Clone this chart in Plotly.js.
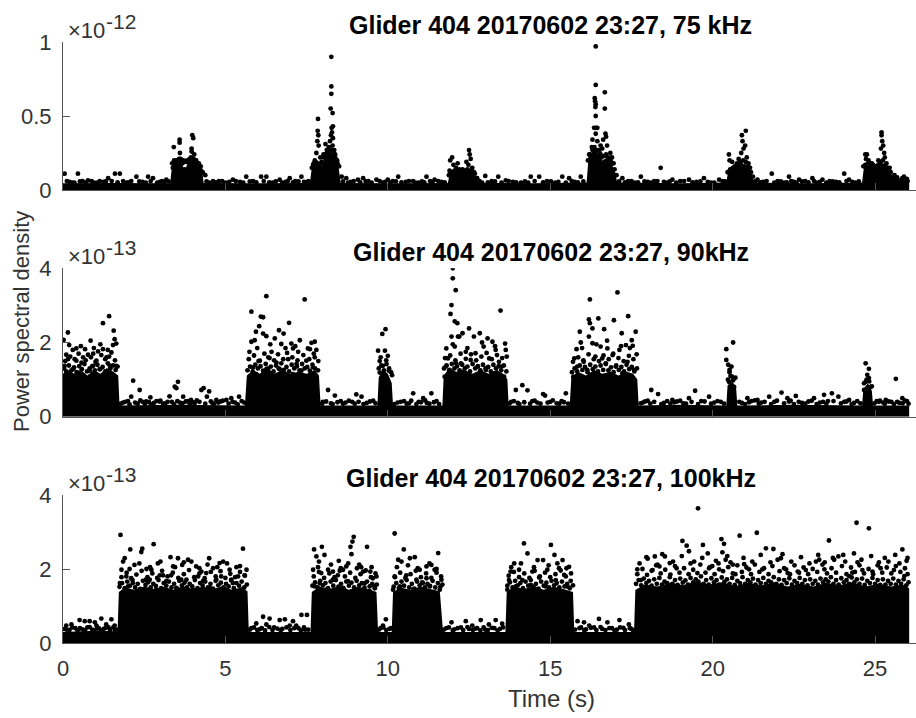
<!DOCTYPE html>
<html>
<head>
<meta charset="utf-8">
<script src="https://cdn.plot.ly/plotly-3.0.1.min.js"></script>
<style>html,body{margin:0;padding:0;background:#fff;overflow:hidden}</style>
</head>
<body>
<div id="chart"></div>
<script>
// ---------------- data ----------------
const panelTitles = ['Glider 404 20170602 23:27, 75 kHz', 'Glider 404 20170602 23:27, 90kHz', 'Glider 404 20170602 23:27, 100kHz'];
const xTicks = [0, 5, 10, 15, 20, 25];
const xTickText = ['0', '5', '10', '15', '20', '25'];
const yTicks75 = [0, 0.5, 1];
const yTickText75 = ['0', '0.5', '1'];
const yTicksHi = [0, 2, 4];
const yTickTextHi = ['0', '2', '4'];
const expBase = '×10';
const exponents = ['-12', '-13', '-13'];
const xLabel = 'Time (s)';
const yLabel = 'Power spectral density';

// ===== 75 kHz (PSD in units of 1e-12) =====
// core75: upper edge of the solid, completely over-plotted part of the point cloud [time s, psd]
const core75 = [[0,0.045],[1.5,0.048],[3.3,0.045],[3.36,0.17],[3.5,0.19],[3.65,0.18],[3.75,0.13],[3.85,0.19],[4.0,0.21],[4.15,0.18],[4.28,0.14],[4.33,0.048],[6.0,0.046],[7.6,0.048],[7.66,0.15],[7.8,0.18],[7.95,0.16],[8.05,0.22],[8.2,0.26],[8.35,0.24],[8.48,0.16],[8.55,0.048],[10.2,0.045],[11.85,0.048],[11.9,0.11],[12.1,0.13],[12.35,0.12],[12.55,0.14],[12.7,0.1],[12.78,0.048],[14.5,0.046],[16.12,0.05],[16.18,0.22],[16.35,0.28],[16.5,0.24],[16.6,0.2],[16.75,0.22],[16.9,0.17],[17.0,0.12],[17.06,0.05],[19.0,0.046],[20.42,0.05],[20.48,0.13],[20.7,0.15],[20.9,0.18],[21.05,0.17],[21.2,0.11],[21.26,0.05],[23.0,0.046],[24.6,0.05],[24.66,0.16],[24.85,0.17],[25.05,0.15],[25.2,0.19],[25.4,0.14],[25.52,0.1],[25.8,0.075],[26.05,0.07]];
// individually visible points [time s, psd]
const dots75 = [[0.05,0.11],[0.2,0.055],[0.35,0.05],[0.46,0.11],[0.6,0.06],[0.77,0.065],[0.95,0.05],[1.13,0.06],[1.25,0.055],[1.39,0.08],[1.5,0.06],[1.6,0.11],[1.75,0.11],[1.95,0.05],[2.1,0.06],[2.26,0.09],[2.45,0.055],[2.62,0.09],[2.77,0.08],[2.9,0.05],[3.05,0.06],[3.18,0.07],
[4.38,0.1],[4.5,0.05],[4.62,0.06],[4.8,0.06],[5.0,0.05],[5.23,0.07],[5.45,0.055],[5.64,0.09],[5.85,0.06],[6.1,0.09],[6.26,0.09],[6.45,0.05],[6.67,0.07],[6.85,0.055],[6.98,0.08],[7.15,0.06],[7.34,0.09],[7.5,0.05],
[8.72,0.08],[8.85,0.055],[9.08,0.07],[9.24,0.08],[9.4,0.06],[9.65,0.07],[9.85,0.05],[10.0,0.07],[10.15,0.06],[10.32,0.09],[10.55,0.055],[10.78,0.06],[10.95,0.05],[11.19,0.09],[11.3,0.06],[11.44,0.07],[11.65,0.055],
[12.9,0.05],[13.0,0.095],[13.2,0.06],[13.4,0.09],[13.63,0.065],[13.85,0.055],[14.1,0.05],[14.4,0.09],[14.66,0.09],[14.9,0.06],[15.15,0.05],[15.37,0.09],[15.58,0.08],[15.75,0.055],[15.94,0.09],
[17.22,0.08],[17.4,0.06],[17.6,0.05],[17.79,0.09],[18.0,0.055],[18.2,0.06],[18.4,0.15],[18.6,0.05],[18.76,0.07],[19.0,0.06],[19.27,0.07],[19.5,0.055],[19.73,0.08],[19.95,0.05],[20.2,0.07],[20.3,0.06],
[21.38,0.07],[21.55,0.055],[21.82,0.11],[22.0,0.06],[22.2,0.05],[22.35,0.09],[22.5,0.055],[22.66,0.07],[22.85,0.06],[23.07,0.08],[23.2,0.05],[23.38,0.07],[23.6,0.06],[23.8,0.055],[24.05,0.11],[24.2,0.07],[24.4,0.05],
[25.6,0.06],[25.75,0.055],[25.89,0.09],[26.0,0.06],
[3.41,0.29],[3.59,0.34],[3.59,0.32],[3.6,0.25],[3.57,0.21],[3.98,0.37],[4.01,0.35],[3.96,0.28],[3.96,0.26],[4.04,0.24],[3.5,0.2],[3.7,0.2],[3.45,0.18],[3.62,0.19],[3.9,0.21],[4.08,0.2],[4.15,0.18],[4.2,0.15],[3.38,0.15],[3.8,0.19],[4.25,0.13],
[7.85,0.48],[7.84,0.4],[7.86,0.37],[7.83,0.33],[7.87,0.3],[7.8,0.25],[7.75,0.2],[7.92,0.22],[8.26,0.9],[8.26,0.7],[8.26,0.65],[8.24,0.55],[8.3,0.52],[8.27,0.42],[8.31,0.43],[8.28,0.39],[8.25,0.37],[8.31,0.35],[8.22,0.33],[8.3,0.3],[8.18,0.29],[8.08,0.31],[8.12,0.27],[8.02,0.24],[8.35,0.27],[8.38,0.24],[8.42,0.2],[8.45,0.18],[8.2,0.26],[7.7,0.17],[8.58,0.09],
[11.92,0.2],[11.98,0.22],[12.02,0.17],[12.1,0.15],[12.15,0.18],[12.3,0.14],[12.42,0.19],[12.5,0.27],[12.52,0.24],[12.55,0.21],[12.48,0.17],[12.6,0.15],[12.65,0.12],[12.2,0.12],[11.9,0.13],
[16.4,0.97],[16.4,0.71],[16.68,0.66],[16.37,0.62],[16.38,0.6],[16.4,0.58],[16.39,0.56],[16.68,0.55],[16.4,0.5],[16.35,0.42],[16.4,0.42],[16.45,0.42],[16.4,0.38],[16.7,0.38],[16.72,0.36],[16.63,0.34],[16.3,0.34],[16.45,0.33],[16.55,0.3],[16.75,0.3],[16.6,0.28],[16.28,0.29],[16.5,0.27],[16.85,0.25],[16.2,0.24],[16.9,0.22],[16.95,0.18],[16.25,0.22],[16.8,0.2],[16.55,0.24],
[21.02,0.4],[20.9,0.37],[20.92,0.33],[21.0,0.3],[20.95,0.28],[20.5,0.24],[20.52,0.2],[20.6,0.19],[20.88,0.25],[21.05,0.22],[21.1,0.18],[20.75,0.18],[20.8,0.21],[21.15,0.15],[20.68,0.16],
[25.2,0.39],[25.2,0.37],[25.22,0.33],[25.25,0.3],[25.18,0.28],[24.7,0.24],[24.75,0.24],[24.72,0.21],[24.8,0.2],[25.28,0.25],[25.3,0.22],[25.1,0.2],[24.9,0.18],[25.35,0.18],[25.45,0.15],[25.6,0.1],[25.0,0.16]];
// points along the ragged top of the dense cloud [time s, psd]
const fringe75 = [[3.36,0.18],[3.42,0.2],[3.48,0.19],[3.54,0.2],[3.62,0.21],[3.68,0.18],[3.74,0.14],[3.82,0.2],[3.88,0.19],[3.94,0.22],[4.02,0.21],[4.1,0.2],[4.18,0.18],[4.24,0.16],[4.3,0.12],
[7.66,0.15],[7.72,0.18],[7.78,0.19],[7.84,0.18],[7.9,0.17],[7.96,0.19],[8.02,0.22],[8.08,0.24],[8.14,0.26],[8.2,0.28],[8.26,0.27],[8.32,0.26],[8.38,0.22],[8.44,0.2],[8.5,0.16],
[11.88,0.1],[11.95,0.12],[12.05,0.13],[12.12,0.12],[12.2,0.14],[12.28,0.12],[12.36,0.13],[12.45,0.14],[12.58,0.14],[12.68,0.11],[12.75,0.08],
[16.16,0.2],[16.22,0.24],[16.3,0.27],[16.36,0.29],[16.44,0.27],[16.52,0.25],[16.58,0.22],[16.66,0.23],[16.72,0.24],[16.78,0.22],[16.86,0.2],[16.92,0.18],[16.98,0.14],[17.04,0.1],
[20.46,0.12],[20.54,0.14],[20.62,0.15],[20.7,0.16],[20.78,0.17],[20.86,0.19],[20.94,0.2],[21.02,0.19],[21.1,0.16],[21.18,0.12],[21.24,0.09],
[24.64,0.16],[24.7,0.17],[24.78,0.18],[24.86,0.18],[24.94,0.17],[25.02,0.16],[25.1,0.17],[25.16,0.19],[25.24,0.2],[25.32,0.17],[25.4,0.15],[25.48,0.12],[25.56,0.09],[25.68,0.085],[25.84,0.08],[25.98,0.075],
[0.12,0.06],[0.28,0.05],[0.52,0.058],[0.7,0.052],[0.88,0.06],[1.05,0.05],[1.32,0.058],[1.68,0.052],[1.85,0.06],[2.02,0.052],[2.35,0.058],[2.55,0.05],[2.7,0.06],[2.98,0.055],[3.12,0.05],[3.25,0.058],
[4.42,0.058],[4.7,0.052],[4.9,0.06],[5.12,0.055],[5.32,0.06],[5.55,0.05],[5.75,0.058],[5.95,0.052],[6.18,0.06],[6.35,0.052],[6.55,0.058],[6.75,0.05],[6.92,0.06],[7.08,0.052],[7.25,0.058],[7.42,0.055],[7.55,0.06],
[8.62,0.058],[8.78,0.05],[8.95,0.06],[9.15,0.052],[9.32,0.058],[9.5,0.05],[9.75,0.06],[9.92,0.055],[10.08,0.05],[10.25,0.058],[10.42,0.052],[10.65,0.06],[10.85,0.05],[11.05,0.058],[11.12,0.052],[11.38,0.055],[11.55,0.06],[11.75,0.052],
[12.82,0.06],[13.08,0.052],[13.3,0.058],[13.5,0.05],[13.72,0.06],[13.95,0.052],[14.22,0.058],[14.32,0.05],[14.52,0.06],[14.78,0.052],[15.02,0.058],[15.25,0.055],[15.48,0.05],[15.66,0.06],[15.85,0.052],[16.02,0.058],
[17.12,0.058],[17.3,0.052],[17.5,0.06],[17.7,0.052],[17.9,0.058],[18.1,0.05],[18.3,0.06],[18.5,0.055],[18.68,0.058],[18.88,0.05],[19.12,0.06],[19.38,0.052],[19.62,0.058],[19.85,0.055],[20.05,0.05],[20.38,0.058],
[21.3,0.058],[21.46,0.052],[21.66,0.06],[21.9,0.05],[22.1,0.058],[22.28,0.052],[22.42,0.06],[22.58,0.05],[22.75,0.058],[22.95,0.052],[23.12,0.06],[23.3,0.055],[23.5,0.05],[23.7,0.058],[23.9,0.052],[24.12,0.06],[24.3,0.055],[24.5,0.058]];

// ===== 90 kHz (PSD in units of 1e-13) =====
const core90 = [[0,1.16],[0.15,1.26],[0.35,1.16],[0.55,1.26],[0.75,1.11],[0.95,1.26],[1.15,1.16],[1.35,1.31],[1.55,1.21],[1.7,1.11],[1.74,0.3],[3.5,0.32],[5.6,0.3],[5.66,1.11],[5.85,1.26],[6.05,1.16],[6.3,1.31],[6.5,1.16],[6.75,1.26],[7.0,1.16],[7.25,1.21],[7.5,1.16],[7.75,1.26],[7.88,1.11],[7.93,0.3],[9.68,0.3],[9.72,1.06],[9.85,1.26],[10.0,1.16],[10.12,0.91],[10.16,0.3],[11.68,0.3],[11.72,1.11],[11.9,1.31],[12.1,1.21],[12.35,1.26],[12.6,1.16],[12.85,1.26],[13.1,1.16],[13.35,1.26],[13.55,1.16],[13.68,1.01],[13.72,0.3],[15.6,0.3],[15.65,1.06],[15.85,1.21],[16.1,1.11],[16.35,1.26],[16.6,1.16],[16.85,1.21],[17.1,1.11],[17.35,1.21],[17.55,1.16],[17.68,1.01],[17.72,0.3],[19.0,0.32],[20.42,0.3],[20.46,0.85],[20.6,0.95],[20.72,0.8],[20.76,0.3],[22.5,0.32],[24.6,0.3],[24.64,0.75],[24.78,0.9],[24.9,0.7],[24.94,0.3],[26.05,0.3]];
const dots90 = [[0.02,2.07],[0.15,2.27],[0.19,1.93],[0.41,1.84],[0.68,1.82],[0.85,2.05],[1.23,2.52],[1.42,2.71],[1.56,2.32],[1.59,2.09],[1.64,1.97],[1.54,1.93],[1.23,1.82],[1.08,1.76],[0.93,1.7],[0.77,1.67],[0.62,1.6],[0.41,1.51],[0.15,1.55],[0.05,1.37],[0.31,1.28],[0.57,1.46],[1.03,1.51],[1.34,1.6],[1.49,1.73],[1.13,1.28],[0.82,1.24],[0.51,1.19],[0.21,1.1],[1.44,1.37],[1.64,1.37],[0.93,1.37],[1.28,1.15],[0.1,1.67],
[2.16,0.97],[2.36,0.72],[2.69,0.52],[3.28,0.55],[3.44,0.81],[3.54,0.94],[3.49,0.77],[3.7,0.54],[4.26,0.72],[4.33,0.77],[4.5,0.68],[4.43,0.54],[4.72,0.45],[5.03,0.45],[5.18,0.5],[5.42,0.54],[2.1,0.54],[2.56,0.41],[2.97,0.41],[3.94,0.45],
[1.85,0.38],[2.0,0.42],[2.3,0.35],[2.45,0.4],[2.8,0.37],[3.0,0.43],[3.15,0.36],[3.35,0.4],[3.6,0.38],[3.85,0.42],[4.05,0.36],[4.2,0.4],[4.6,0.37],[4.85,0.41],[5.3,0.38],[5.5,0.42],
[5.8,2.83],[6.09,2.7],[6.26,3.25],[6.16,2.68],[6.04,2.44],[5.94,2.29],[5.9,2.06],[6.16,2.24],[6.26,2.17],[5.8,2.02],[5.74,1.75],[6.52,2.11],[6.65,2.33],[6.79,2.24],[6.96,2.53],[6.72,1.96],[7.03,1.97],[7.29,2.06],[7.44,3.16],[7.65,1.99],[7.75,2.02],[7.8,1.8],[7.54,1.84],[7.24,1.75],[7.08,1.84],[6.42,1.75],[6.32,1.6],[6.06,1.51],[5.85,1.33],[6.57,1.46],[6.93,1.55],[7.19,1.42],[7.49,1.51],[7.75,1.6],[6.67,1.28],[6.26,1.28],[7.34,1.24],[7.7,1.33],[5.95,1.15],[7.08,1.15],[6.47,1.1],
[8.16,0.72],[8.37,0.57],[9.03,0.6],[9.19,0.54],[8.0,0.4],[8.25,0.36],[8.55,0.42],[8.7,0.38],[8.9,0.4],[9.35,0.37],[9.55,0.43],
[9.83,2.23],[9.93,2.36],[9.7,1.78],[9.91,1.78],[10.0,1.64],[9.75,1.5],[9.85,1.37],[10.03,1.24],[9.75,1.19],[10.13,1.12],[9.91,1.12],
[10.78,0.63],[11.34,0.63],[11.09,0.5],[10.3,0.38],[10.5,0.42],[10.65,0.36],[10.95,0.4],[11.2,0.37],[11.5,0.42],
[12.0,4.0],[12.0,3.73],[12.09,3.41],[11.96,3.01],[11.93,2.77],[12.06,2.57],[11.96,2.16],[11.8,1.84],[12.06,1.89],[12.16,2.16],[11.85,1.57],[11.78,1.35],[12.14,2.52],[12.3,2.25],[12.5,2.38],[12.2,2.16],[12.65,2.16],[12.83,2.25],[13.07,2.11],[13.22,2.02],[13.47,2.86],[13.61,1.97],[13.63,1.8],[13.32,1.8],[12.95,1.89],[12.7,1.71],[12.4,1.75],[12.55,1.53],[13.12,1.57],[13.42,1.48],[12.25,1.44],[12.77,1.35],[13.5,1.35],[13.02,1.26],[12.35,1.22],[13.27,1.17],[12.65,1.08],[13.58,1.08],[11.75,1.08],[11.9,1.26],[12.1,1.44],
[13.94,0.72],[14.14,0.85],[14.3,0.71],[14.78,0.61],[14.84,0.57],[15.48,0.63],[13.8,0.4],[14.0,0.37],[14.45,0.42],[14.6,0.38],[15.0,0.4],[15.2,0.36],[15.35,0.42],
[15.81,1.82],[15.74,1.57],[15.94,2.0],[15.91,2.29],[16.19,2.62],[16.22,2.52],[16.22,3.16],[16.19,2.16],[16.3,2.38],[16.48,2.65],[16.66,2.36],[16.76,1.84],[16.96,2.6],[17.07,3.35],[17.2,2.25],[17.4,2.71],[17.51,2.06],[17.63,2.29],[17.54,1.91],[17.33,1.93],[17.13,1.8],[16.92,1.66],[16.55,1.89],[16.39,1.62],[16.03,1.48],[15.83,1.35],[16.14,1.26],[16.71,1.44],[17.02,1.35],[17.38,1.48],[17.58,1.26],[16.45,1.17],[16.86,1.08],[17.22,1.17],[15.71,1.08],[16.6,1.57],[16.3,1.98],
[18.11,0.72],[18.32,0.61],[19.46,0.7],[18.76,0.45],[19.27,0.5],[19.89,0.54],[17.85,0.38],[18.0,0.43],[18.5,0.37],[18.9,0.41],[19.1,0.36],[19.65,0.42],[20.05,0.38],[20.25,0.4],
[20.42,1.82],[20.63,2.0],[20.42,1.53],[20.48,1.4],[20.58,1.35],[20.52,1.26],[20.6,1.08],[20.5,0.94],[20.66,0.8],[20.56,0.72],
[21.07,0.5],[21.38,0.45],[21.74,0.54],[22.12,0.65],[22.3,0.5],[22.56,0.56],[23.12,0.5],[23.43,0.59],[23.67,0.63],[23.87,0.54],[24.2,0.45],[20.9,0.37],[21.2,0.42],[21.5,0.38],[21.9,0.4],[22.4,0.43],[22.75,0.37],[22.95,0.41],[23.3,0.38],[23.55,0.42],[24.05,0.4],[24.35,0.37],
[24.71,1.44],[24.81,1.29],[24.76,1.13],[24.81,1.04],[24.71,0.94],[24.86,0.8],[24.66,0.72],[24.79,0.63],
[25.64,1.02],[25.84,0.5],[25.33,0.45],[25.12,0.4],[25.05,0.42],[25.25,0.38],[25.5,0.4],[25.75,0.37],[25.98,0.42]];
const fringe90 = [[0.03,1.3],[0.1,1.22],[0.18,1.38],[0.26,1.25],[0.34,1.33],[0.42,1.2],[0.5,1.36],[0.58,1.28],[0.66,1.42],[0.74,1.22],[0.82,1.3],[0.9,1.36],[0.98,1.25],[1.06,1.4],[1.14,1.28],[1.22,1.34],[1.3,1.22],[1.38,1.44],[1.46,1.3],[1.54,1.38],[1.62,1.26],[1.68,1.35],
[0.07,1.5],[0.22,1.62],[0.36,1.55],[0.48,1.7],[0.7,1.52],[0.86,1.6],[1.0,1.48],[1.18,1.66],[1.3,1.55],[1.42,1.62],[1.6,1.52],
[0.3,1.8],[0.55,1.9],[0.95,1.85],[1.15,1.95],[1.38,1.8],
[5.68,1.25],[5.76,1.35],[5.84,1.22],[5.92,1.4],[6.0,1.3],[6.08,1.36],[6.16,1.24],[6.24,1.42],[6.32,1.3],[6.4,1.35],[6.48,1.22],[6.56,1.38],[6.64,1.3],[6.72,1.44],[6.8,1.26],[6.88,1.34],[6.96,1.22],[7.04,1.4],[7.12,1.3],[7.2,1.36],[7.28,1.25],[7.36,1.42],[7.44,1.3],[7.52,1.34],[7.6,1.24],[7.68,1.4],[7.76,1.3],[7.85,1.25],
[5.72,1.55],[5.88,1.65],[6.02,1.5],[6.2,1.7],[6.36,1.58],[6.5,1.52],[6.62,1.68],[6.78,1.55],[6.9,1.72],[7.06,1.6],[7.22,1.52],[7.4,1.66],[7.58,1.55],[7.72,1.7],[7.86,1.5],
[5.98,1.85],[6.38,1.95],[6.85,1.85],[7.15,1.9],[7.6,1.82],
[9.72,1.3],[9.8,1.38],[9.88,1.25],[9.96,1.42],[10.04,1.3],[10.1,1.2],[9.78,1.6],[9.95,1.52],
[11.73,1.3],[11.81,1.38],[11.89,1.25],[11.97,1.42],[12.05,1.3],[12.13,1.36],[12.21,1.25],[12.29,1.4],[12.37,1.3],[12.45,1.35],[12.53,1.22],[12.61,1.42],[12.69,1.3],[12.77,1.36],[12.85,1.25],[12.93,1.4],[13.01,1.3],[13.09,1.34],[13.17,1.22],[13.25,1.4],[13.33,1.3],[13.41,1.36],[13.49,1.25],[13.57,1.38],[13.65,1.22],
[11.76,1.58],[11.92,1.65],[12.08,1.52],[12.24,1.7],[12.4,1.56],[12.56,1.68],[12.72,1.52],[12.88,1.62],[13.04,1.72],[13.2,1.55],[13.36,1.66],[13.52,1.58],[13.66,1.62],
[12.0,1.95],[12.45,1.85],[12.9,2.0],[13.3,1.9],
[15.67,1.2],[15.75,1.3],[15.83,1.22],[15.91,1.38],[15.99,1.26],[16.07,1.34],[16.15,1.2],[16.23,1.4],[16.31,1.28],[16.39,1.35],[16.47,1.22],[16.55,1.38],[16.63,1.26],[16.71,1.42],[16.79,1.25],[16.87,1.33],[16.95,1.2],[17.03,1.38],[17.11,1.26],[17.19,1.34],[17.27,1.22],[17.35,1.4],[17.43,1.28],[17.51,1.34],[17.59,1.22],[17.67,1.3],
[15.7,1.48],[15.86,1.6],[16.02,1.52],[16.18,1.68],[16.34,1.55],[16.5,1.5],[16.64,1.65],[16.8,1.55],[16.94,1.7],[17.1,1.58],[17.26,1.5],[17.42,1.64],[17.56,1.55],[17.66,1.68],
[15.98,1.85],[16.42,1.95],[16.75,2.05],[17.18,1.9],[17.45,1.85],
[20.47,1.0],[20.55,1.1],[20.63,0.98],[20.7,1.05],[20.52,1.2],[24.66,0.9],[24.74,1.0],[24.82,0.95],[24.9,0.82],
[1.78,0.35],[1.92,0.4],[2.05,0.33],[2.22,0.38],[2.38,0.44],[2.52,0.34],[2.65,0.39],[2.72,0.33],[2.88,0.42],[3.08,0.35],[3.22,0.4],[3.42,0.34],[3.52,0.42],[3.68,0.36],[3.78,0.41],[3.9,0.34],[4.0,0.39],[4.12,0.44],[4.38,0.35],[4.55,0.41],[4.65,0.34],[4.78,0.38],[4.92,0.43],[5.1,0.35],[5.22,0.4],[5.38,0.33],[5.58,0.38],
[7.98,0.35],[8.1,0.41],[8.3,0.34],[8.45,0.39],[8.62,0.35],[8.8,0.43],[8.98,0.35],[9.1,0.4],[9.25,0.34],[9.45,0.41],[9.62,0.36],
[10.2,0.34],[10.4,0.4],[10.58,0.35],[10.72,0.43],[10.88,0.34],[11.02,0.39],[11.15,0.44],[11.28,0.35],[11.42,0.39],[11.58,0.34],
[13.75,0.36],[13.88,0.42],[14.05,0.34],[14.2,0.39],[14.38,0.35],[14.52,0.43],[14.7,0.35],[14.92,0.38],[15.08,0.44],[15.28,0.35],[15.42,0.39],[15.55,0.35],
[17.78,0.36],[17.92,0.41],[18.08,0.35],[18.2,0.4],[18.42,0.34],[18.6,0.42],[18.7,0.35],[18.82,0.39],[19.0,0.43],[19.18,0.35],[19.35,0.4],[19.55,0.34],[19.75,0.41],[19.95,0.35],[20.15,0.42],[20.35,0.35],
[20.82,0.4],[21.0,0.34],[21.12,0.39],[21.3,0.44],[21.42,0.35],[21.6,0.4],[21.8,0.34],[21.98,0.43],[22.2,0.36],[22.35,0.41],[22.5,0.34],[22.65,0.4],[22.85,0.35],[23.05,0.43],[23.2,0.34],[23.4,0.4],[23.5,0.35],[23.72,0.42],[23.95,0.36],[24.12,0.41],[24.28,0.34],[24.45,0.42],[24.55,0.36],
[24.98,0.36],[25.15,0.43],[25.3,0.35],[25.42,0.41],[25.58,0.34],[25.68,0.4],[25.85,0.36],[25.92,0.43],[26.03,0.35]];

// ===== 100 kHz (PSD in units of 1e-13) =====
const core100 = [[0,0.3],[1.0,0.33],[1.68,0.32],[1.72,1.38],[1.9,1.5],[2.2,1.44],[2.5,1.53],[2.8,1.46],[3.1,1.52],[3.4,1.44],[3.7,1.54],[4.0,1.45],[4.3,1.52],[4.6,1.46],[4.9,1.53],[5.2,1.44],[5.5,1.5],[5.68,1.4],[5.72,0.3],[7.62,0.3],[7.66,1.38],[7.9,1.53],[8.2,1.46],[8.5,1.54],[8.8,1.44],[9.1,1.52],[9.4,1.46],[9.65,1.38],[9.7,0.3],[10.12,0.3],[10.16,1.38],[10.4,1.5],[10.7,1.43],[11.0,1.53],[11.3,1.46],[11.6,1.4],[11.7,0.3],[13.62,0.3],[13.66,1.38],[13.9,1.53],[14.2,1.46],[14.5,1.54],[14.8,1.44],[15.1,1.52],[15.4,1.46],[15.7,1.38],[15.74,0.3],[17.58,0.3],[17.62,1.43],[17.9,1.58],[18.3,1.53],[18.7,1.63],[19.1,1.56],[19.5,1.66],[19.9,1.58],[20.3,1.64],[20.7,1.54],[21.1,1.63],[21.5,1.56],[21.9,1.64],[22.3,1.53],[22.7,1.6],[23.1,1.53],[23.5,1.63],[23.9,1.56],[24.3,1.64],[24.7,1.53],[25.1,1.6],[25.5,1.53],[25.85,1.58],[26.05,1.48]];
const dots100 = [[0.51,0.62],[0.67,0.59],[0.82,0.59],[0.98,0.56],[1.18,0.66],[1.49,0.64],[0.26,0.5],[1.33,0.5],[0.1,0.47],[1.03,0.47],[1.59,0.47],[0.05,0.38],[0.2,0.35],[0.38,0.4],[0.6,0.37],[0.75,0.42],[0.9,0.36],[1.1,0.4],[1.25,0.38],[1.4,0.42],[1.6,0.36],
[1.77,2.92],[1.9,2.29],[1.85,2.2],[1.8,1.98],[1.95,1.8],[2.07,2.53],[2.2,2.11],[2.44,2.55],[2.41,2.46],[2.57,2.0],[2.72,1.98],[2.79,2.67],[2.92,2.15],[3.08,1.83],[3.31,2.32],[3.39,2.07],[3.54,2.29],[3.67,2.11],[3.85,2.25],[3.95,2.2],[4.1,2.07],[4.26,1.93],[4.5,2.29],[4.62,2.02],[4.82,2.16],[4.93,2.2],[5.13,1.98],[5.34,2.05],[5.54,2.55],[5.65,1.98],[5.59,1.83],[5.39,1.8],[2.67,1.71],[3.18,1.67],[3.8,1.71],[4.31,1.67],[4.72,1.71],[5.23,1.62],[2.15,1.62],[2.36,1.44],[2.87,1.44],[3.49,1.49],[4.0,1.44],[4.52,1.49],[5.03,1.44],[5.49,1.44],[2.0,1.53],[3.64,1.71],[4.16,1.8],[4.87,1.8],[2.98,1.83],[1.75,1.62],[4.41,1.89],[3.33,1.83],[5.18,1.71],[2.55,1.71],
[6.16,0.71],[6.36,0.66],[6.67,0.62],[6.83,0.64],[7.08,0.59],[7.34,0.76],[7.51,0.76],[5.95,0.53],[6.26,0.5],[6.98,0.47],[7.18,0.47],[5.8,0.4],[6.05,0.37],[6.5,0.42],[6.75,0.38],[7.25,0.4],[7.45,0.36],
[7.73,2.53],[7.97,2.6],[7.8,2.34],[8.05,2.38],[7.7,1.98],[7.88,2.2],[7.95,1.89],[8.16,1.98],[8.31,1.93],[8.49,2.22],[8.62,1.98],[8.72,2.07],[8.85,2.6],[8.91,2.74],[8.95,2.87],[8.88,2.4],[9.05,2.02],[9.18,2.05],[9.24,1.93],[9.36,2.6],[9.46,1.93],[9.54,1.75],[9.65,1.8],[8.31,1.71],[7.9,1.62],[8.77,1.67],[9.29,1.62],[9.59,1.53],[8.1,1.44],[8.62,1.49],[9.03,1.44],[9.44,1.4],[8.46,1.83],[7.75,1.53],
[9.94,0.64],[9.85,0.47],[9.78,0.4],[10.05,0.38],
[10.21,2.96],[10.49,2.53],[10.32,2.25],[10.42,2.2],[10.68,2.29],[10.83,2.32],[10.98,1.98],[11.19,2.07],[11.34,2.11],[11.44,1.98],[11.5,2.0],[11.55,2.43],[11.65,1.71],[10.21,1.8],[10.57,1.83],[10.88,1.71],[11.19,1.75],[10.37,1.53],[10.78,1.44],[11.29,1.53],[11.6,1.44],[10.16,1.44],[11.08,1.62],
[11.96,0.56],[12.4,0.59],[12.86,0.62],[13.32,0.62],[13.11,0.5],[12.6,0.47],[13.52,0.52],[11.8,0.4],[12.05,0.37],[12.25,0.42],[12.5,0.38],[12.75,0.4],[13.0,0.36],[13.2,0.41],[13.45,0.38],
[14.19,2.69],[15.02,2.65],[14.3,2.42],[14.61,2.24],[14.78,2.24],[15.13,2.38],[15.38,2.24],[15.58,2.06],[15.63,1.68],[13.89,2.15],[13.78,1.93],[14.04,1.98],[14.45,1.93],[14.91,1.98],[15.27,2.02],[15.43,1.84],[13.73,1.7],[14.14,1.7],[14.66,1.77],[15.17,1.7],[13.94,1.53],[14.4,1.57],[14.86,1.53],[15.53,1.53],[13.68,1.44],[14.24,1.4],[15.07,1.4],[14.55,1.44],
[15.84,0.59],[16.04,0.56],[16.5,0.65],[16.76,0.56],[17.13,0.62],[17.42,0.5],[16.2,0.47],[15.9,0.4],[16.1,0.37],[16.35,0.42],[16.6,0.38],[16.9,0.4],[17.05,0.36],[17.25,0.41],[17.5,0.38],
[17.68,1.99],[17.96,2.32],[18.22,2.34],[18.53,2.34],[17.79,1.7],[18.15,1.97],[18.36,2.07],[18.68,2.16],[18.89,2.02],[19.07,2.76],[19.2,2.63],[19.27,2.48],[19.43,2.2],[19.55,3.64],[19.7,2.65],[19.53,1.89],[19.89,2.02],[19.99,2.08],[20.27,2.81],[20.35,2.68],[20.3,2.45],[20.4,2.25],[20.2,1.99],[20.55,2.18],[20.7,1.86],[20.83,2.9],[20.97,2.13],[21.12,1.99],[21.36,2.98],[21.53,1.99],[21.64,2.56],[21.87,2.54],[22.0,2.25],[22.1,2.29],[22.26,1.99],[22.31,1.89],[22.62,1.93],[22.87,1.97],[23.18,2.2],[23.28,2.25],[23.44,1.99],[23.58,2.77],[23.74,2.25],[23.87,2.34],[24.02,2.38],[24.2,1.81],[24.3,1.9],[24.43,3.25],[24.46,2.18],[24.61,1.97],[24.81,3.1],[24.92,1.93],[25.17,2.02],[25.41,2.2],[25.58,1.97],[25.84,2.53],[25.97,2.22],[25.9,1.81]];
const fringe100 = [[1.74,1.52],[1.82,1.62],[1.9,1.48],[1.98,1.66],[2.06,1.55],[2.14,1.7],[2.22,1.5],[2.3,1.6],[2.38,1.46],[2.46,1.68],[2.54,1.57],[2.62,1.64],[2.7,1.5],[2.78,1.6],[2.86,1.54],[2.94,1.7],[3.02,1.48],[3.1,1.62],[3.18,1.55],[3.26,1.66],[3.34,1.5],[3.42,1.6],[3.5,1.47],[3.58,1.68],[3.66,1.56],[3.74,1.63],[3.82,1.5],[3.9,1.6],[3.98,1.53],[4.06,1.7],[4.14,1.48],[4.22,1.62],[4.3,1.55],[4.38,1.66],[4.46,1.5],[4.54,1.6],[4.62,1.47],[4.7,1.68],[4.78,1.56],[4.86,1.63],[4.94,1.5],[5.02,1.6],[5.1,1.53],[5.18,1.69],[5.26,1.48],[5.34,1.62],[5.42,1.55],[5.5,1.66],[5.58,1.5],[5.66,1.58],
[1.8,1.78],[1.96,1.9],[2.1,1.75],[2.26,1.85],[2.42,1.95],[2.6,1.78],[2.75,1.88],[2.9,1.76],[3.05,1.95],[3.22,1.8],[3.38,1.9],[3.55,1.76],[3.72,1.86],[3.88,1.97],[4.04,1.78],[4.2,1.88],[4.36,1.75],[4.55,1.92],[4.7,1.8],[4.85,1.94],[5.0,1.76],[5.15,1.87],[5.3,1.78],[5.45,1.92],[5.6,1.82],
[2.05,2.0],[2.35,2.15],[2.68,2.05],[3.0,2.2],[3.45,2.05],[3.72,2.18],[4.2,2.02],[4.45,2.12],[4.75,2.05],[5.05,2.15],[5.45,2.08],
[7.68,1.55],[7.76,1.64],[7.84,1.5],[7.92,1.68],[8.0,1.56],[8.08,1.62],[8.16,1.48],[8.24,1.66],[8.32,1.55],[8.4,1.7],[8.48,1.52],[8.56,1.6],[8.64,1.47],[8.72,1.66],[8.8,1.55],[8.88,1.63],[8.96,1.5],[9.04,1.68],[9.12,1.56],[9.2,1.62],[9.28,1.5],[9.36,1.66],[9.44,1.53],[9.52,1.6],[9.6,1.48],[9.66,1.58],
[7.72,1.8],[7.88,1.92],[8.04,1.76],[8.2,1.88],[8.36,1.78],[8.52,1.95],[8.68,1.8],[8.84,1.9],[9.0,1.76],[9.16,1.86],[9.32,1.96],[9.48,1.78],[9.62,1.88],
[7.85,2.05],[8.25,2.12],[8.55,2.02],[8.78,2.15],[9.12,2.12],[9.5,2.05],
[10.18,1.52],[10.26,1.62],[10.34,1.48],[10.42,1.66],[10.5,1.55],[10.58,1.7],[10.66,1.5],[10.74,1.6],[10.82,1.47],[10.9,1.66],[10.98,1.56],[11.06,1.64],[11.14,1.5],[11.22,1.6],[11.3,1.54],[11.38,1.68],[11.46,1.5],[11.54,1.62],[11.62,1.52],[11.68,1.58],
[10.22,1.78],[10.38,1.9],[10.54,1.76],[10.7,1.86],[10.86,1.95],[11.02,1.78],[11.18,1.88],[11.34,1.76],[11.5,1.9],[11.64,1.8],
[10.28,2.05],[10.62,2.1],[10.92,2.02],[11.28,2.15],
[13.68,1.55],[13.76,1.64],[13.84,1.5],[13.92,1.68],[14.0,1.56],[14.08,1.62],[14.16,1.48],[14.24,1.66],[14.32,1.55],[14.4,1.7],[14.48,1.52],[14.56,1.6],[14.64,1.47],[14.72,1.66],[14.8,1.55],[14.88,1.63],[14.96,1.5],[15.04,1.68],[15.12,1.56],[15.2,1.62],[15.28,1.5],[15.36,1.66],[15.44,1.53],[15.52,1.6],[15.6,1.48],[15.7,1.56],
[13.72,1.82],[13.88,1.92],[14.04,1.78],[14.2,1.88],[14.36,1.76],[14.52,1.95],[14.68,1.8],[14.84,1.9],[15.0,1.78],[15.16,1.86],[15.32,1.96],[15.48,1.8],[15.64,1.88],
[13.8,2.05],[14.1,2.15],[14.5,2.05],[14.95,2.1],[15.22,2.15],[15.5,2.02],
[17.64,1.6],[17.72,1.7],[17.8,1.56],[17.88,1.74],[17.96,1.62],[18.04,1.68],[18.12,1.55],[18.2,1.72],[18.28,1.6],[18.36,1.76],[18.44,1.58],[18.52,1.66],[18.6,1.62],[18.68,1.78],[18.76,1.6],[18.84,1.7],[18.92,1.57],[19.0,1.74],[19.08,1.63],[19.16,1.69],[19.24,1.58],[19.32,1.76],[19.4,1.64],[19.48,1.72],[19.56,1.66],[19.64,1.8],[19.72,1.6],[19.8,1.7],[19.88,1.58],[19.96,1.75],[20.04,1.64],[20.12,1.7],[20.2,1.58],[20.28,1.77],[20.36,1.65],[20.44,1.72],[20.52,1.6],[20.6,1.76],[20.68,1.57],[20.76,1.68],[20.84,1.62],[20.92,1.78],[21.0,1.6],[21.08,1.7],[21.16,1.64],[21.24,1.74],[21.32,1.58],[21.4,1.7],[21.48,1.62],[21.56,1.76],[21.64,1.6],[21.72,1.68],[21.8,1.64],[21.88,1.78],[21.96,1.6],[22.04,1.72],[22.12,1.57],[22.2,1.7],[22.28,1.62],[22.36,1.75],[22.44,1.58],[22.52,1.68],[22.6,1.62],[22.68,1.76],[22.76,1.6],[22.84,1.7],[22.92,1.56],[23.0,1.72],[23.08,1.6],[23.16,1.68],[23.24,1.58],[23.32,1.74],[23.4,1.64],[23.48,1.72],[23.56,1.66],[23.64,1.78],[23.72,1.6],[23.8,1.7],[23.88,1.58],[23.96,1.75],[24.04,1.64],[24.12,1.7],[24.2,1.6],[24.28,1.77],[24.36,1.64],[24.44,1.72],[24.52,1.6],[24.6,1.74],[24.68,1.57],[24.76,1.68],[24.84,1.62],[24.92,1.76],[25.0,1.6],[25.08,1.7],[25.16,1.57],[25.24,1.72],[25.32,1.58],[25.4,1.68],[25.48,1.6],[25.56,1.74],[25.64,1.58],[25.72,1.68],[25.8,1.6],[25.88,1.72],[25.96,1.56],[26.03,1.64],
[17.68,1.86],[17.84,2.0],[17.98,1.84],[18.12,1.95],[18.26,2.1],[18.4,1.88],[18.54,1.98],[18.7,1.85],[18.84,2.08],[18.98,1.9],[19.12,2.02],[19.26,1.86],[19.4,1.98],[19.62,2.12],[19.78,1.9],[19.92,2.05],[20.06,1.86],[20.18,2.15],[20.32,1.94],[20.48,2.05],[20.62,1.88],[20.76,2.1],[20.9,1.92],[21.04,2.04],[21.18,1.86],[21.3,2.12],[21.44,1.92],[21.58,2.02],[21.72,1.86],[21.84,2.08],[22.06,1.94],[22.2,2.02],[22.38,1.86],[22.52,2.1],[22.66,1.9],[22.8,2.04],[22.94,1.86],[23.08,2.0],[23.22,1.92],[23.38,2.12],[23.52,1.88],[23.66,2.02],[23.8,1.9],[23.98,2.08],[24.12,1.86],[24.26,2.04],[24.38,1.92],[24.52,2.1],[24.66,1.88],[24.8,2.0],[24.94,1.86],[25.08,2.1],[25.22,1.9],[25.36,2.04],[25.5,1.88],[25.64,2.08],[25.78,1.92],[25.92,2.02],[26.0,1.86],
[17.75,2.15],[18.0,2.28],[18.3,2.12],[18.45,2.4],[18.78,2.2],[19.05,2.35],[19.32,2.15],[19.68,2.3],[19.85,2.42],[20.1,2.22],[20.45,2.35],[20.62,2.12],[20.95,2.3],[21.22,2.2],[21.48,2.38],[21.78,2.18],[22.15,2.4],[22.42,2.2],[22.72,2.32],[22.98,2.15],[23.25,2.38],[23.45,2.18],[23.7,2.3],[24.08,2.2],[24.35,2.42],[24.58,2.25],[24.88,2.35],[25.12,2.18],[25.3,2.3],[25.62,2.38],[25.75,2.15],[26.0,2.3],
[0.12,0.36],[0.28,0.42],[0.45,0.34],[0.52,0.4],[0.68,0.35],[0.82,0.43],[0.95,0.35],[1.05,0.39],[1.18,0.34],[1.32,0.41],[1.45,0.35],[1.55,0.42],[1.66,0.36],
[5.75,0.36],[5.88,0.42],[5.98,0.35],[6.12,0.4],[6.22,0.34],[6.35,0.43],[6.45,0.35],[6.6,0.39],[6.7,0.34],[6.88,0.42],[7.0,0.35],[7.12,0.4],[7.32,0.34],[7.42,0.42],[7.55,0.36],
[9.72,0.36],[9.86,0.42],[9.95,0.35],[10.1,0.4],
[11.72,0.36],[11.88,0.42],[12.0,0.34],[12.15,0.4],[12.32,0.35],[12.45,0.43],[12.62,0.35],[12.7,0.39],[12.85,0.34],[12.95,0.42],[13.08,0.35],[13.28,0.4],[13.38,0.34],[13.55,0.42],
[15.76,0.36],[15.95,0.42],[16.05,0.34],[16.25,0.41],[16.42,0.35],[16.55,0.43],[16.7,0.35],[16.82,0.4],[16.98,0.34],[17.15,0.42],[17.3,0.35],[17.45,0.4],[17.55,0.34]];

// ---------------- drawing ----------------
const xMax = 26.26;
const ink = '#000000';
const axisCol = '#555555';
const textCol = '#333333';
const fontFam = 'Liberation Sans, Arial, Helvetica, sans-serif';

function coreTrace(pairs, xa, ya) {
  return {type: 'scatter', mode: 'lines', x: pairs.map(p => p[0]), y: pairs.map(p => p[1]),
    xaxis: xa, yaxis: ya, fill: 'tozeroy', fillcolor: ink, line: {width: 0, color: ink}, hoverinfo: 'skip'};
}
function dotTrace(pairs, xa, ya) {
  return {type: 'scatter', mode: 'markers', x: pairs.map(p => p[0]), y: pairs.map(p => p[1]),
    xaxis: xa, yaxis: ya, marker: {size: 4.8, color: ink, line: {width: 0}}, cliponaxis: true};
}
const data = [
  coreTrace(core75, 'x', 'y'), dotTrace(dots75.concat(fringe75), 'x', 'y'),
  coreTrace(core90, 'x2', 'y2'), dotTrace(dots90.concat(fringe90), 'x2', 'y2'),
  coreTrace(core100, 'x3', 'y3'), dotTrace(dots100.concat(fringe100), 'x3', 'y3')
];

function xAx(anchor, labels) {
  return {anchor: anchor, domain: [0, 1], range: [0, xMax], tickmode: 'array', tickvals: xTicks, ticktext: xTickText,
    showticklabels: labels, ticks: 'inside', ticklen: 7, tickwidth: 1, tickcolor: axisCol,
    showline: true, linecolor: axisCol, linewidth: 1, showgrid: false, zeroline: false,
    tickfont: {family: fontFam, size: 22, color: textCol}, ticklabelstandoff: 6};
}
function yAx(anchor, domain, range, vals, text) {
  return {anchor: anchor, domain: domain, range: range, tickmode: 'array', tickvals: vals, ticktext: text,
    ticks: 'inside', ticklen: 7, tickwidth: 1, tickcolor: axisCol,
    showline: true, linecolor: axisCol, linewidth: 1, showgrid: false, zeroline: false,
    tickfont: {family: fontFam, size: 22, color: textCol}, ticklabelstandoff: 6};
}

const H = 718, T = 42, B = 75;
const PH = H - T - B;
const py = v => (H - B - v) / PH;          // pixel row -> paper y
const W = 916, L = 63;
const px = v => (v - L) / (W - L);          // pixel column -> paper x

const panelTop = [41.7, 268.3, 495];
const annotations = [];
panelTitles.forEach((t, i) => {
  annotations.push({xref: 'paper', yref: 'paper', x: px(550.5), y: py(panelTop[i] - 16.7), xanchor: 'center', yanchor: 'middle',
    text: '<b>' + t + '</b>', showarrow: false, font: {family: fontFam, size: 25, color: '#000'}});
  annotations.push({xref: 'paper', yref: 'paper', x: px(66), y: py(panelTop[i] - 11.7), xanchor: 'left', yanchor: 'middle',
    text: expBase, showarrow: false, font: {family: fontFam, size: 22, color: textCol}});
  annotations.push({xref: 'paper', yref: 'paper', x: px(104), y: py(panelTop[i] - 20.5), xanchor: 'left', yanchor: 'middle',
    text: exponents[i], showarrow: false, font: {family: fontFam, size: 21, color: textCol}});
});
annotations.push({xref: 'paper', yref: 'paper', x: px(551), y: py(698), xanchor: 'center', yanchor: 'middle',
  text: xLabel, showarrow: false, font: {family: fontFam, size: 24, color: textCol}});
annotations.push({xref: 'paper', yref: 'paper', x: px(21), y: py(322), xanchor: 'center', yanchor: 'middle', textangle: -90,
  text: yLabel, showarrow: false, font: {family: fontFam, size: 22, color: textCol}});

const layout = {
  width: W, height: H,
  margin: {l: L, r: 0, t: T, b: B, pad: 0},
  paper_bgcolor: '#ffffff', plot_bgcolor: '#ffffff',
  showlegend: false,
  font: {family: fontFam, color: textCol},
  xaxis: xAx('y', false),
  xaxis2: xAx('y2', false),
  xaxis3: xAx('y3', true),
  yaxis: yAx('x', [py(190), 1], [0, 1], yTicks75, yTickText75),
  yaxis2: yAx('x2', [py(416.7), py(268.3)], [0, 4], yTicksHi, yTickTextHi),
  yaxis3: yAx('x3', [0, py(495)], [0, 4], yTicksHi, yTickTextHi),
  annotations: annotations
};

Plotly.newPlot('chart', data, layout, {displayModeBar: false, staticPlot: true});
</script>
</body>
</html>
